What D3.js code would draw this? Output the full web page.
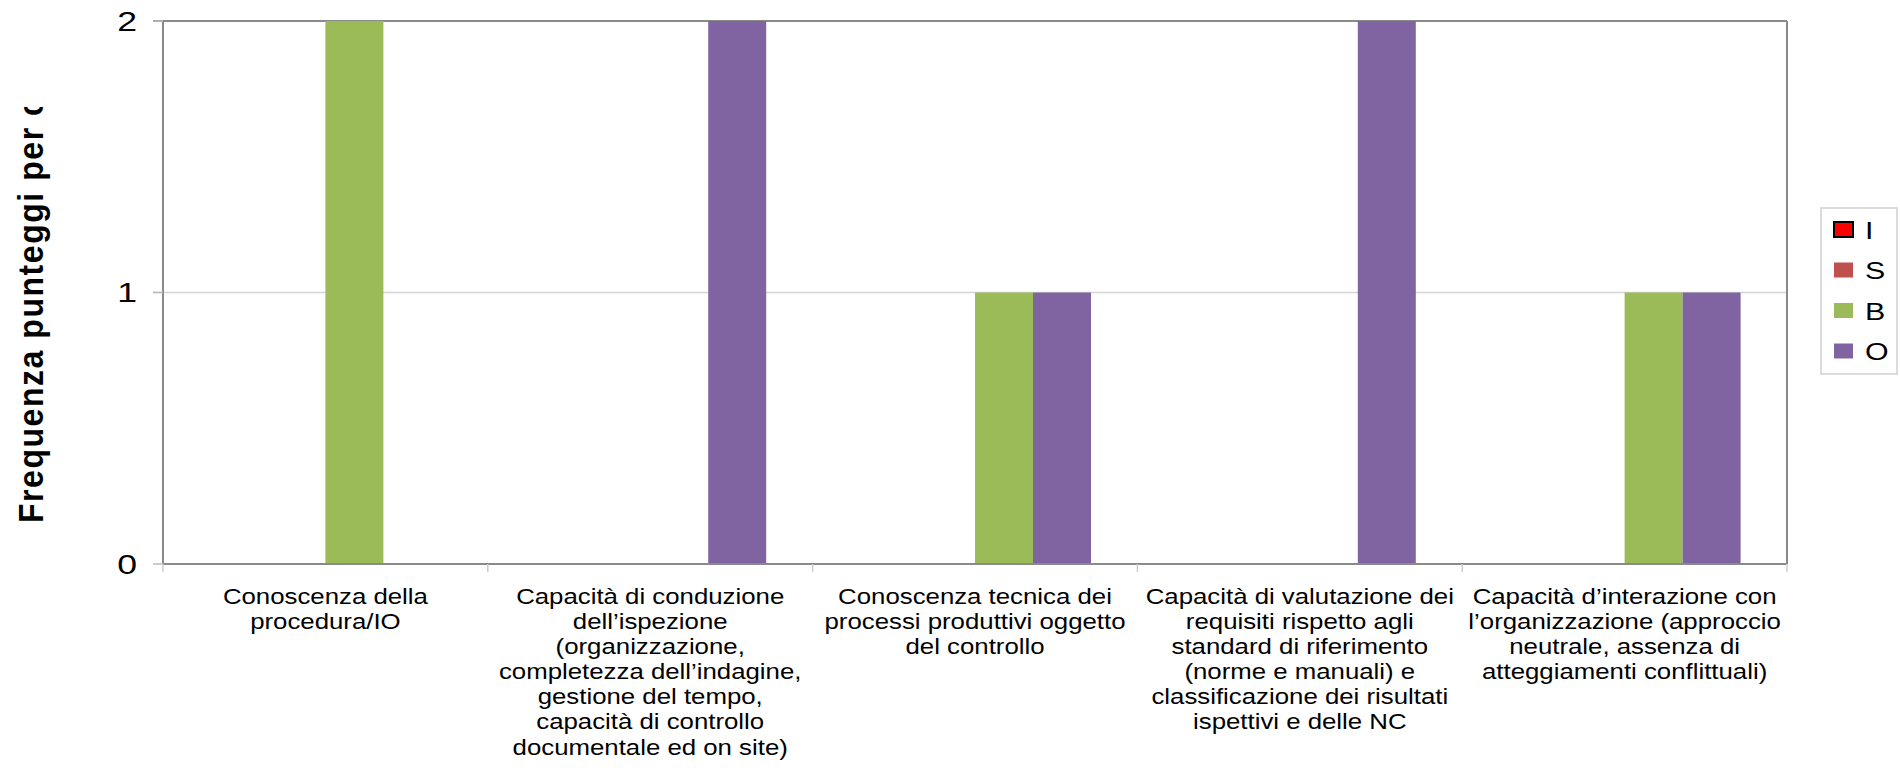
<!DOCTYPE html>
<html><head><meta charset="utf-8">
<script src="https://cdn.jsdelivr.net/npm/d3@7"></script>
<style>body{margin:0;background:#fff}text{font-family:"Liberation Sans",Arial,sans-serif}</style>
</head><body>
<svg id="c" width="1900" height="768"></svg>
<script>
const categories = ["C1","C2","C3","C4","C5"];
const categoryLabels = [
  ["Conoscenza della","procedura/IO"],
  ["Capacità di conduzione","dell’ispezione","(organizzazione,","completezza dell’indagine,","gestione del tempo,","capacità di controllo","documentale ed on site)"],
  ["Conoscenza tecnica dei","processi produttivi oggetto","del controllo"],
  ["Capacità di valutazione dei","requisiti rispetto agli","standard di riferimento","(norme e manuali) e","classificazione dei risultati","ispettivi e delle NC"],
  ["Capacità d’interazione con","l’organizzazione (approccio","neutrale, assenza di","atteggiamenti conflittuali)"]
];
const seriesNames = ["I","S","B","O"];
const seriesColors = ["#FF0000","#C0504D","#9BBB59","#8064A2"];
const valuesI = [0,0,0,0,0];
const valuesS = [0,0,0,0,0];
const valuesB = [2,0,1,0,1];
const valuesO = [0,2,1,2,1];
const yTicks = [0,1,2];
const yTitle = "Frequenza punteggi per categoria";

const seriesValues = [valuesI,valuesS,valuesB,valuesO];
const svg = d3.select("#c");
const L=163,R=1787,T=21,B=564;
const SX=1.2;
const x0 = d3.scaleBand().domain(categories).range([L,R]).paddingInner(0).paddingOuter(0);
const x1 = d3.scaleBand().domain(seriesNames).range([0,x0.bandwidth()]).paddingInner(0).paddingOuter(0.8);
const y = d3.scaleLinear().domain([0,2]).range([B,T]);

// gridlines
svg.append("g").selectAll("line").data(yTicks.filter(d=>d>0)).join("line")
  .attr("x1",L-10).attr("x2",R).attr("y1",d=>y(d)).attr("y2",d=>y(d))
  .attr("stroke",d=>d===2?"#8a8a8a":"#d4d4d4").attr("stroke-width",d=>d===2?2:1.5);

// bars
const g = svg.append("g");
categories.forEach((c,ci)=>{
  seriesNames.forEach((s,si)=>{
    const v = seriesValues[si][ci];
    if(v>0) g.append("rect").attr("x",x0(c)+x1(s)).attr("width",x1.bandwidth())
      .attr("y",y(v)).attr("height",y(0)-y(v)).attr("fill",seriesColors[si]);
  });
});

// right border
svg.append("line").attr("x1",R).attr("x2",R).attr("y1",T).attr("y2",B).attr("stroke","#8a8a8a").attr("stroke-width",2);

// y axis
svg.append("line").attr("x1",L).attr("x2",L).attr("y1",T).attr("y2",B).attr("stroke","#8a8a8a").attr("stroke-width",2);
svg.append("g").selectAll("line").data(yTicks).join("line")
  .attr("x1",L-10).attr("x2",L).attr("y1",d=>y(d)).attr("y2",d=>y(d)).attr("stroke","#bbb").attr("stroke-width",1.5);
svg.append("g").selectAll("text").data(yTicks).join("text")
  .attr("transform",d=>`translate(137,${y(d)+9.5}) scale(1.32,1)`)
  .attr("text-anchor","end").attr("font-size",27).attr("fill","#000").text(d=>d);

// x axis
svg.append("line").attr("x1",L).attr("x2",R).attr("y1",B).attr("y2",B).attr("stroke","#8a8a8a").attr("stroke-width",2);
const bounds = categories.map(c=>x0(c)).concat([R]);
svg.append("g").selectAll("line").data(bounds).join("line")
  .attr("x1",d=>d).attr("x2",d=>d).attr("y1",B).attr("y2",B+8).attr("stroke","#ccc").attr("stroke-width",1.5);
categories.forEach((c,ci)=>{
  const cx = x0(c)+x0.bandwidth()/2;
  const t = svg.append("text").attr("transform",`translate(${cx},604) scale(${SX},1)`)
    .attr("text-anchor","middle").attr("font-size",21.5).attr("fill","#000");
  categoryLabels[ci].forEach((ln,li)=>{
    t.append("tspan").attr("x",0).attr("y",li*25.1).text(ln);
  });
});

// y title (clipped)
svg.append("clipPath").attr("id","tc").append("rect").attr("x",0).attr("y",107).attr("width",120).attr("height",700);
svg.append("g").attr("clip-path","url(#tc)").append("text")
  .attr("transform",`translate(43,523) scale(1.1,1) rotate(-90)`)
  .attr("font-size",32).attr("font-weight","bold").attr("letter-spacing",1.55).attr("fill","#000").text(yTitle);

// legend
const lg = svg.append("g");
lg.append("rect").attr("x",1821).attr("y",208).attr("width",76).attr("height",166).attr("fill","#fff").attr("stroke","#d0d0d0").attr("stroke-width",1.5);
seriesNames.forEach((s,i)=>{
  const yy = 230 + i*40.5;
  lg.append("rect").attr("x",1834).attr("y",yy-8).attr("width",19).attr("height",15)
    .attr("fill",seriesColors[i]).attr("stroke",i===0?"#000":"none").attr("stroke-width",2);
  lg.append("text").attr("transform",`translate(1865,${yy+8.5}) scale(1.32,1)`).attr("font-size",23).attr("fill","#000").text(s);
});
</script>
</body></html>
